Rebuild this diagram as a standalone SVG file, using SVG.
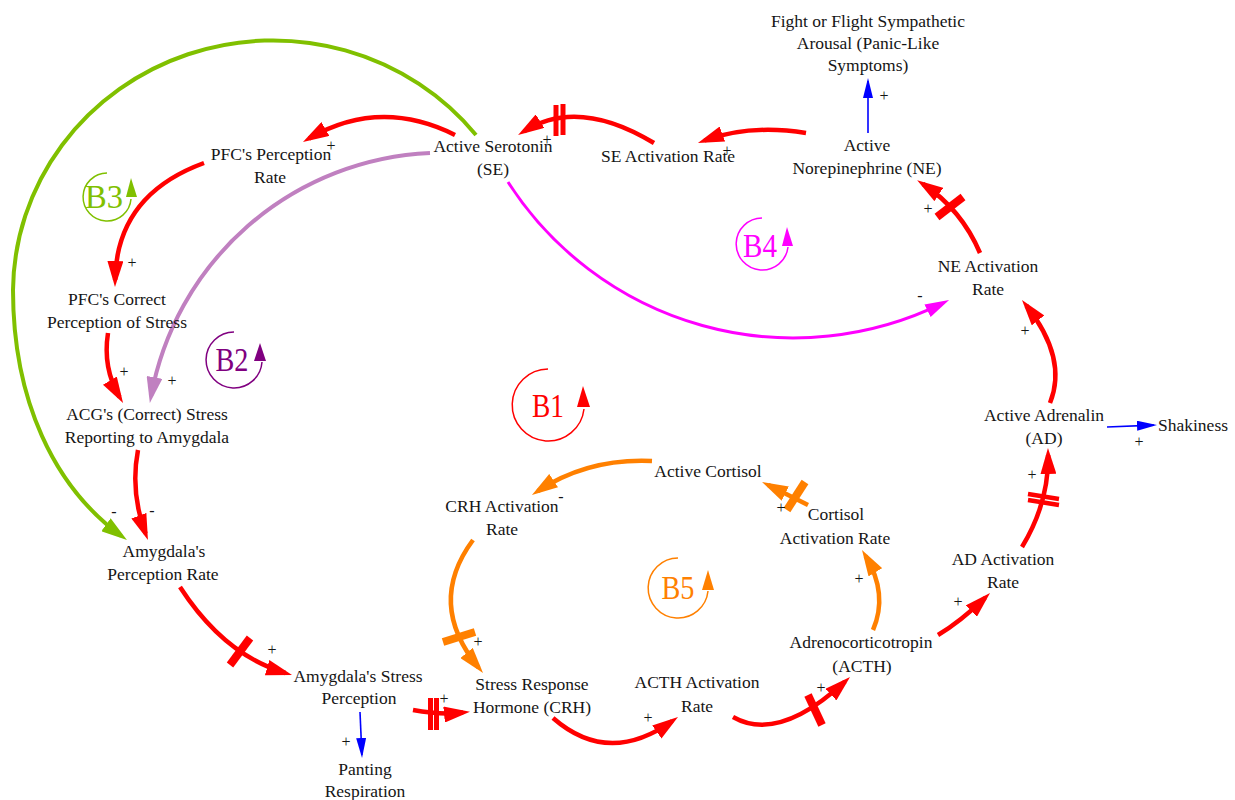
<svg xmlns="http://www.w3.org/2000/svg" width="1235" height="800" viewBox="0 0 1235 800">
<style>
.n{font-family:"Liberation Serif","Times New Roman",serif;font-size:17.5px;fill:#151515;text-anchor:middle}
.p{font-family:"Liberation Serif","Times New Roman",serif;font-size:16px;fill:#151515;text-anchor:middle}
.lp{font-family:"Liberation Serif","Times New Roman",serif;font-size:34px;text-anchor:middle}
.c{fill:none}
.red{stroke:#ff0000;stroke-width:4.5}
.org{stroke:#ff8000;stroke-width:4.5}
.grn{stroke:#80c000;stroke-width:4}
.pur{stroke:#c080c0;stroke-width:4}
.mag{stroke:#ff00ff;stroke-width:3}
.blu{stroke:#0000ff;stroke-width:1.6}
.hr{stroke:#ff0000;fill:none}
.ho{stroke:#ff8000;fill:none}
</style>
<defs>
<marker id="mr" markerUnits="userSpaceOnUse" viewBox="0 0 26 16" markerWidth="26" markerHeight="16" refX="19" refY="8" orient="auto"><path d="M0,0 L26,8 L0,16 z" fill="#ff0000"/></marker>
<marker id="mo" markerUnits="userSpaceOnUse" viewBox="0 0 26 16" markerWidth="26" markerHeight="16" refX="19" refY="8" orient="auto"><path d="M0,0 L26,8 L0,16 z" fill="#ff8000"/></marker>
<marker id="mg" markerUnits="userSpaceOnUse" viewBox="0 0 26 16" markerWidth="26" markerHeight="16" refX="19" refY="8" orient="auto"><path d="M0,0 L26,8 L0,16 z" fill="#80c000"/></marker>
<marker id="mp" markerUnits="userSpaceOnUse" viewBox="0 0 26 16" markerWidth="26" markerHeight="16" refX="19" refY="8" orient="auto"><path d="M0,0 L26,8 L0,16 z" fill="#c080c0"/></marker>
<marker id="mm" markerUnits="userSpaceOnUse" viewBox="0 0 24 14" markerWidth="24" markerHeight="14" refX="17" refY="7" orient="auto"><path d="M0,0 L24,7 L0,14 z" fill="#ff00ff"/></marker>
<marker id="mb" markerUnits="userSpaceOnUse" viewBox="0 0 20 10" markerWidth="20" markerHeight="10" refX="17" refY="5" orient="auto"><path d="M0,0 L20,5 L0,10 z" fill="#0000ff"/></marker>
</defs>
<rect width="1235" height="800" fill="#ffffff"/>

<g id="connectors">
<!-- big arcs -->
<path class="c grn" d="M476,135 A260,252 0 0 0 13,290 C13,400 54,487 121.3,535.9" marker-end="url(#mg)"/>
<path class="c pur" d="M430,153 A297,297 0 0 0 151.1,396.1" marker-end="url(#mp)"/>
<path class="c mag" d="M508,182 A339,339 0 0 0 942.8,303.2" marker-end="url(#mm)"/>
<!-- red chain -->
<path class="c red" d="M654,143 Q578,97 524,131.3" marker-end="url(#mr)"/>
<path class="c red" d="M806,133 Q750,124 704.5,140.5" marker-end="url(#mr)"/>
<path class="c red" d="M980,253 Q961.5,209.5 923,184" marker-end="url(#mr)"/>
<path class="c red" d="M455,135 Q380,97.5 309,138.5" marker-end="url(#mr)"/>
<path class="c red" d="M204,163 Q116.5,195 115.1,280" marker-end="url(#mr)"/>
<path class="c red" d="M108,333 Q102.5,368 119.5,397" marker-end="url(#mr)"/>
<path class="c red" d="M138,450 Q130,492 145.5,533.5" marker-end="url(#mr)"/>
<path class="c red" d="M180,587 Q224,655 285.3,673" marker-end="url(#mr)"/>
<path class="c red" d="M413,710 Q440,715 463,712.6" marker-end="url(#mr)"/>
<path class="c red" d="M553,718 Q608.5,766.5 672.3,721" marker-end="url(#mr)"/>
<path class="c red" d="M733,717 Q778.5,743 844.9,681.7" marker-end="url(#mr)"/>
<path class="c red" d="M938,635 Q960,622 985,597.9" marker-end="url(#mr)"/>
<path class="c red" d="M1022,547 Q1049,502.5 1048.1,455" marker-end="url(#mr)"/>
<path class="c red" d="M1050,403 Q1068,358.5 1026.3,305.5" marker-end="url(#mr)"/>
<!-- orange chain -->
<path class="c org" d="M473,540 Q426,603.5 478.6,667.6" marker-end="url(#mo)"/>
<path class="c org" d="M652,461 Q588,458 537.8,491.1" marker-end="url(#mo)"/>
<path class="c org" d="M808,505 L768.3,485.1" marker-end="url(#mo)"/>
<path class="c org" d="M873,630 Q888.5,594 865.6,556" marker-end="url(#mo)"/>
<!-- blue -->
<path class="c blu" d="M868,133 L868,81" marker-end="url(#mb)"/>
<path class="c blu" d="M360,712 L361.9,755" marker-end="url(#mb)"/>
<path class="c blu" d="M1107,427 L1154,425.1" marker-end="url(#mb)"/>
<!-- delay marks -->
<line class="hr" stroke-width="5" x1="556" y1="105" x2="556" y2="136"/>
<line class="hr" stroke-width="5" x1="563" y1="104" x2="563" y2="135"/>
<line class="hr" stroke-width="8" x1="937" y1="217" x2="963" y2="197"/>
<line class="hr" stroke-width="4.5" x1="1028" y1="494" x2="1059" y2="499"/>
<line class="hr" stroke-width="4.5" x1="1028" y1="500" x2="1059" y2="505"/>
<line class="hr" stroke-width="8" x1="230" y1="665" x2="250" y2="638"/>
<line class="hr" stroke-width="5" x1="430.5" y1="698" x2="430.5" y2="730"/>
<line class="hr" stroke-width="5" x1="436.5" y1="698" x2="436.5" y2="730"/>
<line class="ho" stroke-width="8" x1="443" y1="642" x2="475" y2="632"/>
<line class="ho" stroke-width="8" x1="787" y1="510" x2="805" y2="482"/>
<line class="hr" stroke-width="8" x1="808" y1="695" x2="822" y2="725"/>
<!-- polarity -->
<text class="p" x="547" y="145">+</text>
<text class="p" x="727" y="156">+</text>
<text class="p" x="884" y="101">+</text>
<text class="p" x="928" y="214">+</text>
<text class="p" x="920" y="301">-</text>
<text class="p" x="331" y="151">+</text>
<text class="p" x="132" y="268">+</text>
<text class="p" x="124" y="377">+</text>
<text class="p" x="172" y="386">+</text>
<text class="p" x="114" y="517">-</text>
<text class="p" x="152" y="516">-</text>
<text class="p" x="272" y="655">+</text>
<text class="p" x="346" y="747">+</text>
<text class="p" x="444" y="704">+</text>
<text class="p" x="478" y="647">+</text>
<text class="p" x="561" y="502">-</text>
<text class="p" x="781" y="513">+</text>
<text class="p" x="859" y="584">+</text>
<text class="p" x="648" y="723">+</text>
<text class="p" x="821" y="693">+</text>
<text class="p" x="958" y="607">+</text>
<text class="p" x="1032" y="480">+</text>
<text class="p" x="1025" y="336">+</text>
<text class="p" x="1139" y="447">+</text>
</g>

<g id="loop-B1">
<path d="M548,369 A36,36 0 1 0 584,409" fill="none" stroke="#ff0000" stroke-width="1.5"/>
<polygon points="583,386 577,407 590,407" fill="#ff0000"/>
<text class="lp" x="548" y="417" fill="#ff0000" textLength="32" lengthAdjust="spacingAndGlyphs">B1</text>
</g>
<g id="loop-B2">
<path d="M234,332 A28,28 0 1 0 262,362" fill="none" stroke="#800080" stroke-width="1.5"/>
<polygon points="260,343 254,361 266,361" fill="#800080"/>
<text class="lp" x="232" y="371" fill="#800080" textLength="33" lengthAdjust="spacingAndGlyphs">B2</text>
</g>
<g id="loop-B3">
<path d="M107,173 A24,24 0 1 0 131,199" fill="none" stroke="#80c000" stroke-width="1.5"/>
<polygon points="131,178 126,197 137,197" fill="#80c000"/>
<text class="lp" x="104" y="208" fill="#80c000" textLength="38" lengthAdjust="spacingAndGlyphs">B3</text>
</g>
<g id="loop-B4">
<path d="M762,218 A26,26 0 1 0 788,247" fill="none" stroke="#ff00ff" stroke-width="1.5"/>
<polygon points="787,227 782,246 793,246" fill="#ff00ff"/>
<text class="lp" x="760" y="257" fill="#ff00ff" textLength="34" lengthAdjust="spacingAndGlyphs">B4</text>
</g>
<g id="loop-B5">
<path d="M678,558 A30,30 0 1 0 708,591" fill="none" stroke="#ff8000" stroke-width="1.5"/>
<polygon points="708,570 702,590 714,590" fill="#ff8000"/>
<text class="lp" x="678" y="599" fill="#ff8000" textLength="33" lengthAdjust="spacingAndGlyphs">B5</text>
</g>

<g id="fight-or-flight"><text class="n" x="868" y="27">Fight or Flight Sympathetic</text><text class="n" x="868" y="49">Arousal (Panic-Like</text><text class="n" x="868" y="71">Symptoms)</text></g>
<g id="active-ne"><text class="n" x="867" y="151">Active</text><text class="n" x="867" y="174">Norepinephrine (NE)</text></g>
<g id="se-activation-rate"><text class="n" x="668" y="162">SE Activation Rate</text></g>
<g id="active-serotonin"><text class="n" x="493" y="152">Active Serotonin</text><text class="n" x="493" y="175">(SE)</text></g>
<g id="pfc-perception-rate"><text class="n" x="271" y="160">PFC's Perception</text><text class="n" x="270" y="183">Rate</text></g>
<g id="pfc-correct"><text class="n" x="117" y="305">PFC's Correct</text><text class="n" x="117" y="328">Perception of Stress</text></g>
<g id="acg"><text class="n" x="147" y="420">ACG's (Correct) Stress</text><text class="n" x="147" y="443">Reporting to Amygdala</text></g>
<g id="amygdala-perception-rate"><text class="n" x="164" y="557">Amygdala's</text><text class="n" x="163" y="580">Perception Rate</text></g>
<g id="amygdala-stress-perception"><text class="n" x="358" y="682">Amygdala's Stress</text><text class="n" x="359" y="704">Perception</text></g>
<g id="panting"><text class="n" x="365" y="775">Panting</text><text class="n" x="365" y="797">Respiration</text></g>
<g id="crh"><text class="n" x="532" y="690">Stress Response</text><text class="n" x="532" y="713">Hormone (CRH)</text></g>
<g id="acth-activation-rate"><text class="n" x="697" y="688">ACTH Activation</text><text class="n" x="697" y="712">Rate</text></g>
<g id="acth"><text class="n" x="861" y="648">Adrenocorticotropin</text><text class="n" x="862" y="672">(ACTH)</text></g>
<g id="ad-activation-rate"><text class="n" x="1003" y="565">AD Activation</text><text class="n" x="1003" y="588">Rate</text></g>
<g id="cortisol-activation-rate"><text class="n" x="836" y="520">Cortisol</text><text class="n" x="835" y="544">Activation Rate</text></g>
<g id="active-cortisol"><text class="n" x="708" y="477">Active Cortisol</text></g>
<g id="crh-activation-rate"><text class="n" x="502" y="512">CRH Activation</text><text class="n" x="502" y="535">Rate</text></g>
<g id="active-adrenalin"><text class="n" x="1044" y="421">Active Adrenalin</text><text class="n" x="1044" y="444">(AD)</text></g>
<g id="shakiness"><text class="n" x="1193" y="431">Shakiness</text></g>
<g id="ne-activation-rate"><text class="n" x="988" y="272">NE Activation</text><text class="n" x="988" y="295">Rate</text></g>
</svg>
